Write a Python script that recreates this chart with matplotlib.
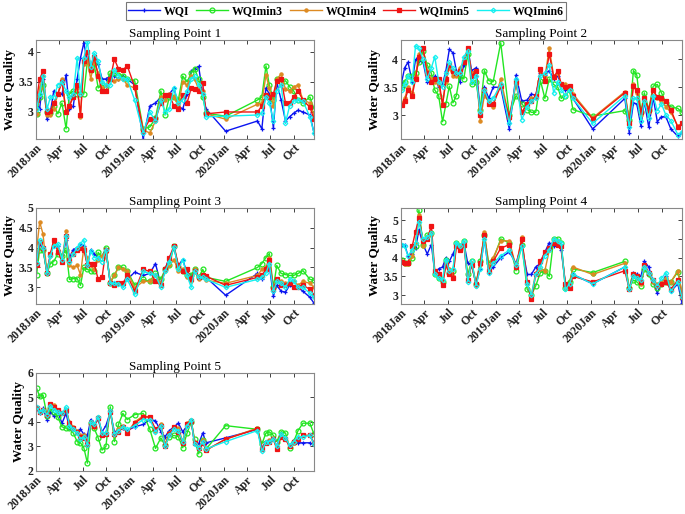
import matplotlib
matplotlib.use("Agg")
import matplotlib.pyplot as plt
import numpy as np
from datetime import datetime

# 字体设置 (Times 风格)
plt.rcParams["font.family"] = ["Liberation Serif", "DejaVu Serif"]
plt.rcParams["axes.unicode_minus"] = False

# 采样日期
dates_str = [
    "2018-01-03", "2018-01-15", "2018-01-28", "2018-02-13", "2018-02-26", "2018-03-11",
    "2018-03-27", "2018-04-12", "2018-04-28", "2018-05-11", "2018-05-26", "2018-06-10",
    "2018-06-23", "2018-07-06", "2018-07-20", "2018-08-02", "2018-08-15", "2018-08-31",
    "2018-09-15", "2018-09-30", "2018-10-17", "2018-11-02", "2018-11-18", "2018-12-05",
    "2018-12-22", "2019-01-20", "2019-02-22", "2019-03-20", "2019-04-11", "2019-05-02",
    "2019-05-18", "2019-06-04", "2019-06-22", "2019-07-09", "2019-07-26", "2019-08-12",
    "2019-08-28", "2019-09-10", "2019-09-26", "2019-10-12", "2019-10-25", "2020-01-09",
    "2020-05-12", "2020-05-29", "2020-06-14", "2020-06-27", "2020-07-13", "2020-07-26",
    "2020-08-12", "2020-08-29", "2020-09-14", "2020-09-30", "2020-10-17", "2020-11-05",
    "2020-12-02", "2020-12-18",
]

series_names = ["WQI", "WQImin3", "WQImin4", "WQImin5", "WQImin6"]

# Sampling Point 1
p1_wqi = [3.10, 3.05, 3.55, 2.88, 3.00, 3.35, 3.30, 3.30, 3.62, 3.05, 3.10, 3.55, 3.90, 4.15,
          3.85, 3.75, 3.95, 3.80, 3.55, 3.55, 3.60, 3.60, 3.55, 3.60, 3.55, 3.45, 2.55, 3.10,
          3.15, 3.25, 3.25, 3.30, 3.40, 3.10, 3.05, 3.30, 3.68, 3.72, 3.76, 3.30, 3.05, 2.68,
          2.85, 2.72, 3.40, 3.30, 2.73, 3.50, 3.20, 2.85, 2.92, 2.98, 3.03, 3.00, 2.95, 2.65]
p1_min3 = [2.97, 3.25, 3.45, 3.00, 2.98, 3.10, 2.97, 3.15, 2.72, 3.30, 3.35, 3.30, 3.30, 3.30,
           3.85, 3.70, 3.80, 3.40, 3.45, 3.42, 3.65, 3.65, 3.62, 3.60, 3.55, 3.52, 2.72, 2.75,
           2.90, 3.35, 2.95, 3.25, 3.25, 3.20, 3.60, 3.50, 3.65, 3.72, 3.55, 3.25, 2.98, 2.93,
           3.20, 3.25, 3.77, 3.45, 3.20, 3.55, 3.50, 3.52, 3.42, 3.35, 3.20, 3.15, 3.25, 3.05]
p1_min4 = [2.97, 3.40, 3.60, 2.95, 2.95, 3.05, 3.30, 3.55, 3.00, 3.10, 3.30, 3.40, 2.92, 3.80,
           3.85, 3.55, 3.85, 3.65, 3.40, 3.45, 3.55, 3.52, 3.55, 3.55, 3.45, 3.40, 2.70, 2.65,
           2.85, 3.25, 3.20, 3.30, 3.25, 3.10, 3.50, 3.45, 3.60, 3.55, 3.38, 3.35, 2.97, 2.88,
           3.13, 3.15, 3.62, 3.40, 3.10, 3.55, 3.63, 3.38, 3.35, 3.42, 3.45, 3.20, 3.15, 2.95]
p1_min5 = [3.20, 3.55, 3.68, 3.00, 3.02, 3.15, 3.30, 3.50, 3.00, 3.10, 3.25, 3.45, 2.95, 3.85,
           4.00, 3.70, 3.92, 3.60, 3.35, 3.35, 3.55, 3.88, 3.72, 3.70, 3.77, 3.42, 2.68, 2.88,
           2.88, 3.15, 3.28, 3.28, 3.10, 3.05, 3.28, 3.15, 3.40, 3.38, 3.35, 3.48, 2.97, 3.00,
           3.00, 3.10, 3.28, 3.25, 3.30, 3.52, 3.55, 3.15, 3.15, 3.25, 3.35, 3.20, 3.08, 2.88]
p1_min6 = [3.05, 3.30, 3.60, 3.05, 3.25, 3.25, 3.45, 3.50, 3.35, 3.25, 3.30, 3.90, 3.30, 3.90,
           4.17, 3.75, 3.98, 3.85, 3.50, 3.45, 3.45, 3.70, 3.60, 3.55, 3.55, 3.20, 2.65, 3.00,
           2.85, 3.20, 3.00, 3.05, 3.40, 3.15, 3.20, 3.35, 3.55, 3.60, 3.45, 3.30, 2.92, 2.93,
           2.95, 2.98, 3.25, 3.15, 2.85, 3.35, 3.45, 2.82, 3.10, 3.18, 3.20, 3.18, 2.92, 2.65]

# Sampling Point 2
p2_wqi = [3.58, 3.85, 3.95, 3.60, 4.00, 3.98, 3.95, 3.60, 3.60, 3.70, 3.50, 3.55, 3.80, 4.18,
          4.12, 3.80, 3.60, 3.90, 4.20, 3.80, 3.85, 3.10, 3.50, 3.30, 3.50, 3.50, 2.75, 3.72,
          3.25, 3.27, 3.38, 3.35, 3.75, 3.72, 3.80, 3.65, 3.70, 3.55, 3.45, 3.50, 3.30, 2.75,
          3.30, 2.68, 3.22, 3.20, 2.80, 3.25, 2.78, 3.32, 2.88, 2.97, 2.97, 2.75, 2.62, 2.68]
p2_min3 = [3.50, 3.60, 3.70, 3.70, 3.75, 3.95, 4.15, 3.90, 3.75, 3.45, 3.35, 2.88, 3.20, 3.52,
           3.22, 3.35, 3.70, 3.65, 4.10, 3.55, 3.60, 3.10, 3.80, 3.62, 3.60, 4.30, 3.00, 3.35,
           3.20, 3.10, 3.05, 3.05, 3.62, 3.30, 3.65, 3.55, 3.50, 3.30, 3.35, 3.45, 3.10, 2.98,
           3.08, 2.92, 3.80, 3.72, 3.05, 3.40, 3.10, 3.52, 3.55, 3.40, 3.22, 3.15, 3.12, 3.05]
p2_min4 = [3.20, 3.30, 3.50, 3.40, 3.70, 4.10, 4.20, 3.80, 3.65, 3.60, 3.55, 3.20, 3.60, 3.85,
           3.70, 3.70, 3.85, 3.95, 4.20, 3.75, 3.80, 2.90, 3.35, 3.25, 3.15, 3.65, 2.95, 3.55,
           3.05, 3.20, 3.30, 3.30, 3.80, 3.68, 4.20, 3.70, 3.75, 3.55, 3.55, 3.50, 3.38, 2.95,
           3.42, 2.90, 3.55, 3.40, 3.00, 3.30, 3.05, 3.45, 3.30, 3.25, 3.15, 3.05, 2.80, 2.85]
p2_min5 = [3.18, 3.25, 3.45, 3.35, 3.65, 4.05, 4.20, 3.75, 3.60, 3.65, 3.65, 3.18, 3.65, 3.90,
           3.80, 3.75, 3.80, 3.95, 4.20, 3.70, 3.80, 3.00, 3.45, 3.20, 3.20, 3.52, 2.97, 3.60,
           3.05, 3.20, 3.25, 3.35, 3.82, 3.62, 4.10, 3.68, 3.80, 3.55, 3.50, 3.52, 3.35, 2.93,
           3.40, 2.85, 3.52, 3.45, 3.05, 3.30, 3.10, 3.45, 3.32, 3.30, 3.25, 3.10, 2.78, 2.85]
p2_min6 = [3.45, 3.55, 3.70, 3.60, 4.25, 4.20, 4.00, 3.65, 3.85, 4.05, 3.60, 3.50, 3.75, 3.95,
           3.85, 3.75, 3.75, 4.05, 4.15, 3.60, 3.70, 3.05, 3.45, 3.25, 3.30, 3.55, 2.85, 3.65,
           2.92, 3.15, 3.25, 3.30, 3.70, 3.75, 3.90, 3.40, 3.60, 3.45, 3.35, 3.45, 3.30, 2.85,
           3.35, 2.78, 3.30, 3.30, 2.90, 3.25, 2.95, 3.35, 3.08, 3.20, 3.00, 2.90, 2.65, 2.70]

# Sampling Point 3
p3_wqi = [3.60, 4.10, 4.00, 3.35, 3.85, 4.05, 4.05, 3.70, 4.20, 3.75, 3.95, 4.00, 4.10, 4.05,
          3.55, 3.95, 3.85, 3.75, 3.80, 3.95, 3.10, 3.10, 3.10, 3.05, 3.20, 3.38, 3.30, 3.35,
          3.60, 3.05, 3.45, 3.75, 3.98, 3.55, 3.70, 3.35, 3.30, 3.40, 3.25, 3.28, 3.25, 2.80,
          3.35, 3.22, 3.45, 3.55, 2.78, 3.05, 2.90, 2.88, 3.05, 3.00, 3.00, 2.90, 2.75, 2.60]
p3_min3 = [3.32, 3.95, 3.95, 3.35, 3.60, 3.65, 3.85, 3.80, 3.95, 3.20, 3.22, 3.22, 3.05, 3.50,
           3.45, 3.42, 3.40, 3.88, 3.75, 4.00, 3.12, 3.30, 3.52, 3.50, 3.42, 3.05, 3.20, 3.15,
           3.35, 3.20, 3.45, 3.55, 4.05, 3.50, 3.40, 3.30, 3.30, 3.45, 3.25, 3.45, 3.25, 3.15,
           3.50, 3.60, 3.75, 3.85, 3.00, 3.55, 3.35, 3.32, 3.30, 3.30, 3.35, 3.42, 3.20, 3.18]
p3_min4 = [3.92, 4.65, 4.35, 3.35, 3.80, 4.10, 3.95, 3.65, 4.42, 3.55, 3.50, 3.55, 3.32, 4.00,
           3.75, 3.55, 3.45, 3.70, 3.80, 3.90, 3.15, 3.30, 3.50, 3.45, 3.40, 2.98, 3.15, 3.15,
           3.30, 3.10, 3.40, 3.55, 3.70, 3.40, 3.45, 3.25, 3.15, 3.45, 3.20, 3.25, 3.18, 3.10,
           3.30, 3.45, 3.50, 3.75, 2.95, 3.15, 3.15, 3.10, 3.12, 3.15, 3.05, 3.15, 3.10, 3.00]
p3_min5 = [3.55, 4.15, 4.00, 3.35, 3.85, 4.20, 3.90, 3.65, 4.30, 3.70, 3.85, 3.95, 4.00, 3.95,
           3.55, 3.60, 3.60, 3.20, 3.25, 3.95, 3.10, 3.05, 3.10, 3.10, 3.30, 2.90, 3.45, 3.40,
           3.15, 3.05, 3.45, 3.75, 4.05, 3.55, 3.40, 3.45, 3.20, 3.40, 3.25, 3.30, 3.28, 3.05,
           3.25, 3.30, 3.45, 3.70, 2.95, 3.20, 3.05, 3.05, 3.10, 3.00, 3.00, 3.05, 2.95, 2.80]
p3_min6 = [3.62, 4.20, 4.00, 3.35, 3.80, 4.05, 4.10, 3.70, 4.30, 3.65, 3.85, 4.00, 4.10, 4.20,
           3.55, 3.92, 3.75, 3.75, 3.65, 3.95, 3.10, 3.10, 3.08, 3.00, 3.20, 2.82, 3.40, 3.35,
           3.30, 3.00, 3.40, 3.65, 4.02, 3.45, 3.70, 3.30, 3.00, 3.40, 3.25, 3.25, 3.20, 3.00,
           3.20, 3.25, 3.35, 3.60, 2.90, 3.15, 3.10, 3.00, 3.20, 3.15, 3.00, 3.00, 2.85, 2.75]

# Sampling Point 4
p4_wqi = [4.35, 4.35, 4.05, 4.10, 4.25, 4.75, 4.35, 4.10, 4.35, 3.60, 3.70, 3.75, 4.00, 3.90,
          4.10, 4.30, 4.25, 4.40, 3.85, 3.80, 3.30, 3.70, 4.50, 3.60, 3.75, 4.00, 4.15, 3.85,
          4.35, 3.55, 3.55, 3.75, 3.85, 4.15, 4.40, 4.30, 4.40, 4.20, 3.30, 3.30, 3.55, 3.30,
          3.75, 3.15, 3.60, 3.55, 3.50, 3.90, 3.75, 3.35, 3.05, 3.35, 3.50, 3.10, 3.30, 2.78]
p4_min3 = [3.95, 3.85, 3.85, 4.00, 4.30, 5.28, 4.35, 4.60, 4.65, 3.55, 3.45, 3.35, 3.95, 3.60,
           3.65, 4.40, 4.30, 4.45, 3.55, 3.90, 3.30, 3.90, 4.60, 3.85, 3.95, 4.50, 4.40, 3.65,
           4.35, 3.15, 3.00, 3.25, 3.60, 3.65, 3.50, 4.50, 4.50, 4.40, 3.20, 3.35, 3.70, 3.60,
           3.90, 3.20, 3.40, 3.35, 3.25, 3.70, 3.55, 3.30, 3.20, 3.30, 3.35, 3.35, 3.62, 3.05]
p4_min4 = [3.90, 3.82, 3.82, 4.05, 4.40, 5.15, 4.30, 4.55, 4.60, 3.60, 3.55, 3.30, 3.85, 3.70,
           3.50, 4.35, 4.30, 4.40, 3.40, 3.85, 3.25, 3.80, 4.68, 3.75, 4.00, 4.45, 4.45, 3.75,
           4.55, 3.30, 3.00, 3.60, 3.70, 3.65, 4.20, 4.50, 4.45, 4.30, 3.20, 3.30, 3.75, 3.55,
           3.85, 3.15, 3.50, 3.45, 3.30, 3.75, 3.60, 3.35, 3.30, 3.35, 3.45, 3.35, 3.65, 3.05]
p4_min5 = [3.88, 3.85, 3.85, 4.30, 4.70, 5.05, 4.45, 4.50, 4.85, 3.65, 3.55, 3.28, 3.80, 3.55,
           3.45, 4.30, 4.20, 4.35, 3.40, 3.80, 3.30, 3.85, 4.60, 3.65, 3.90, 4.25, 4.35, 3.75,
           4.50, 3.35, 2.88, 3.55, 3.90, 4.15, 4.25, 4.40, 4.35, 4.30, 3.30, 3.20, 3.50, 3.35,
           3.65, 3.15, 3.55, 3.50, 3.35, 3.80, 3.60, 3.40, 3.25, 3.30, 3.35, 3.15, 3.40, 2.95]
p4_min6 = [4.35, 4.30, 4.05, 4.20, 4.40, 4.95, 4.50, 4.55, 4.65, 3.55, 3.45, 3.40, 3.95, 3.65,
           3.70, 4.40, 4.30, 4.45, 3.35, 3.90, 3.25, 3.70, 4.50, 3.60, 3.85, 4.05, 4.20, 3.80,
           4.30, 3.30, 3.00, 3.55, 3.75, 4.05, 4.20, 4.50, 4.45, 4.40, 3.15, 3.30, 3.55, 3.30,
           3.75, 3.15, 3.50, 3.45, 3.40, 3.75, 3.60, 3.40, 3.25, 3.45, 3.60, 3.10, 3.35, 2.95]

# Sampling Point 5
p5_wqi = [4.55, 4.35, 4.55, 4.10, 4.40, 4.25, 4.40, 3.95, 4.35, 3.75, 3.75, 3.60, 3.70, 3.50,
          3.45, 4.10, 3.90, 4.10, 3.60, 3.85, 4.40, 3.60, 3.65, 3.75, 3.65, 3.80, 3.90, 4.10,
          4.05, 3.60, 3.40, 3.65, 3.80, 3.95, 3.60, 3.85, 4.05, 3.10, 3.10, 3.55, 3.15, 3.35,
          3.70, 2.95, 3.20, 3.20, 3.35, 3.00, 3.55, 3.35, 3.00, 3.25, 3.15, 3.15, 3.15, 3.05]
p5_min3 = [5.38, 5.05, 5.10, 4.25, 4.55, 4.40, 4.20, 3.80, 3.75, 3.75, 3.55, 3.20, 3.15, 2.95,
           2.32, 3.95, 3.75, 3.35, 2.85, 3.00, 4.62, 3.20, 3.90, 4.35, 4.10, 4.30, 4.35, 3.70,
           2.92, 3.35, 3.05, 3.40, 3.45, 3.40, 2.95, 3.55, 4.00, 3.30, 2.70, 3.25, 2.90, 3.85,
           3.70, 3.10, 3.55, 3.60, 3.45, 3.20, 3.60, 3.55, 2.95, 3.20, 3.65, 3.95, 3.95, 3.50]
p5_min4 = [4.55, 4.40, 4.50, 4.35, 4.75, 4.70, 4.45, 4.35, 4.50, 4.00, 3.80, 3.65, 3.45, 3.45,
           3.10, 4.00, 3.80, 4.20, 3.50, 3.55, 4.45, 3.45, 3.70, 3.85, 3.55, 4.00, 4.25, 4.20,
           3.65, 3.90, 3.10, 3.55, 3.80, 3.75, 3.20, 3.95, 4.10, 3.20, 2.95, 3.25, 2.85, 3.30,
           3.75, 2.90, 3.20, 3.25, 3.35, 2.90, 3.45, 3.35, 3.00, 3.15, 3.30, 3.45, 3.45, 3.10]
p5_min5 = [4.55, 4.40, 4.50, 4.30, 4.75, 4.60, 4.50, 4.35, 4.50, 3.95, 3.75, 3.60, 3.40, 3.35,
           3.10, 3.95, 3.85, 4.15, 3.45, 3.50, 4.40, 3.50, 3.60, 3.80, 3.55, 3.95, 4.20, 4.20,
           3.70, 3.85, 3.00, 3.50, 3.80, 3.60, 3.15, 3.90, 4.05, 3.15, 2.95, 3.15, 2.85, 3.30,
           3.72, 2.90, 3.15, 3.20, 3.30, 2.90, 3.40, 3.30, 3.00, 3.20, 3.30, 3.45, 3.45, 3.15]
p5_min6 = [4.60, 4.40, 4.50, 4.30, 4.65, 4.50, 4.40, 4.35, 4.60, 3.85, 3.70, 3.55, 3.30, 3.40,
           3.05, 4.00, 3.90, 4.20, 3.55, 3.55, 4.45, 3.50, 3.65, 3.80, 3.70, 3.85, 4.10, 4.10,
           3.60, 3.85, 3.00, 3.45, 3.70, 3.65, 3.20, 3.85, 4.10, 3.10, 2.95, 3.20, 2.90, 3.20,
           3.65, 2.80, 3.20, 3.20, 3.30, 3.00, 3.50, 3.35, 3.05, 3.20, 3.40, 3.40, 3.45, 3.10]

panels = [
    ("Sampling Point 1", [p1_wqi, p1_min3, p1_min4, p1_min5, p1_min6]),
    ("Sampling Point 2", [p2_wqi, p2_min3, p2_min4, p2_min5, p2_min6]),
    ("Sampling Point 3", [p3_wqi, p3_min3, p3_min4, p3_min5, p3_min6]),
    ("Sampling Point 4", [p4_wqi, p4_min3, p4_min4, p4_min5, p4_min6]),
    ("Sampling Point 5", [p5_wqi, p5_min3, p5_min4, p5_min5, p5_min6]),
]

x_ticklabels = ["2018Jan", "Apr", "Jul", "Oct", "2019Jan", "Apr", "Jul", "Oct",
                "2020Jan", "Apr", "Jul", "Oct"]

# 样式
colors = ["#0a14f0", "#22e622", "#dd8a22", "#f01414", "#14f0f0"]
markers = ["+", "o", "o", "s", "D"]
msizes = [3.5, 3.5, 2.3, 2.8, 2.3]
mfaces = ["#0a14f0", "none", "#dd8a22", "#f01414", "none"]

ylims = [(2.55, 4.2), (2.57, 4.35), (2.58, 5.0), (2.76, 5.33), (2.0, 6.0)]
yticks = [[3, 3.5, 4], [3, 3.5, 4], [3, 3.5, 4, 4.5, 5], [3, 3.5, 4, 4.5, 5], [2, 3, 4, 5, 6]]
positions = [
    [0.0526, 0.7296, 0.4058, 0.1926],
    [0.5854, 0.7296, 0.4102, 0.1926],
    [0.0526, 0.4086, 0.4058, 0.1868],
    [0.5854, 0.4086, 0.4102, 0.1868],
    [0.0526, 0.0837, 0.4058, 0.1907],
]

dates = [datetime.strptime(d, "%Y-%m-%d") for d in dates_str]
tick_dates = [datetime(2018 + i // 4, 1 + 3 * (i % 4), 1) for i in range(12)]

fig = plt.figure(figsize=(6.85, 5.14), dpi=100)
handles = []
for k, (title, series) in enumerate(panels):
    ax = fig.add_axes(positions[k])
    for j, vals in enumerate(series):
        h, = ax.plot(dates, vals, color=colors[j], marker=markers[j], ms=msizes[j],
                     mfc=mfaces[j], mec=colors[j], mew=0.9, lw=1.0, label=series_names[j])
        if k == 0:
            handles.append(h)
    ax.set_xlim(datetime(2018, 1, 1), datetime(2020, 12, 18))
    ax.set_ylim(*ylims[k])
    ax.set_yticks(yticks[k])
    ax.set_yticklabels([f"{t:g}" for t in yticks[k]], fontweight="bold", fontsize=8.5)
    ax.set_xticks(tick_dates)
    ax.set_xticklabels(x_ticklabels, rotation=45, ha="right", rotation_mode="anchor",
                       fontweight="bold", fontsize=8.5)
    ax.tick_params(direction="in", top=True, right=True, length=3, width=0.6,
                   colors="#222222", pad=2)
    for s in ax.spines.values():
        s.set_color("#888888")
        s.set_linewidth(0.8)
    ax.set_title(title, fontsize=9.5, pad=2)
    ax.set_ylabel("Water Quality", fontweight="bold", fontsize=9.5, labelpad=2)

leg = fig.legend(handles=handles, loc="center", bbox_to_anchor=(0.505, 0.979), ncol=5,
                 prop={"weight": "bold", "size": 8.5}, frameon=True, fancybox=False,
                 handlelength=2.7, columnspacing=0.6, borderpad=0.25, handletextpad=0.3)
leg.get_frame().set_edgecolor("#555555")
leg.get_frame().set_linewidth(0.8)

plt.savefig("out.png", dpi=100)
